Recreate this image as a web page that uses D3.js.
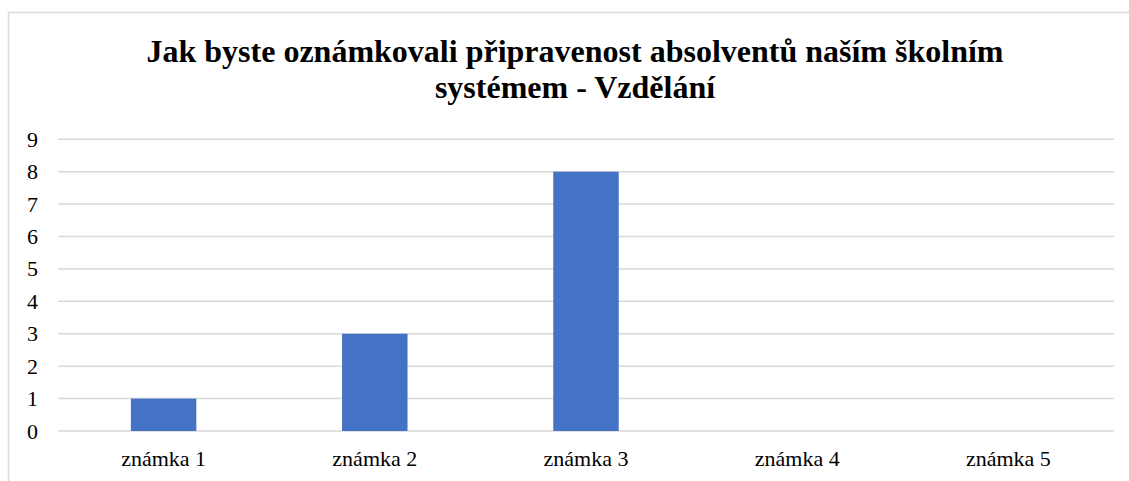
<!DOCTYPE html>
<html><head><meta charset="utf-8">
<script src="https://cdn.jsdelivr.net/npm/d3@7"></script>
<style>html,body{margin:0;padding:0;background:#fff;}svg{display:block;}
svg text{font-family:"Liberation Serif","Times New Roman",serif;}</style>
</head><body>
<svg id="chart" width="1129" height="481"></svg>
<script>
const categories = ["známka 1","známka 2","známka 3","známka 4","známka 5"];
const values = [1,3,8,0,0];
const yTicks = [0,1,2,3,4,5,6,7,8,9];
const titleLines = ["Jak byste oznámkovali připravenost absolventů naším školním","systémem - Vzdělání"];

const svg = d3.select("#chart");
// chart border
svg.append("rect").attr("x",8.5).attr("y",12.5).attr("width",1129).attr("height",480)
  .attr("fill","#fff").attr("stroke","#d9d9d9").attr("stroke-width",1.5);

const margin = {left:58, right:1114, top:139.3, bottom:431};
const x = d3.scaleBand().domain(categories).range([margin.left, margin.right]).paddingInner(0.69).paddingOuter(0.345);
const y = d3.scaleLinear().domain([0,9]).range([margin.bottom, margin.top]);

// gridlines
svg.append("g").selectAll("line").data(yTicks).join("line")
  .attr("x1",margin.left).attr("x2",margin.right)
  .attr("y1",d=>y(d)).attr("y2",d=>y(d))
  .attr("stroke","#d9d9d9").attr("stroke-width",1.5);

// y axis labels
const yAxis = d3.axisLeft(y).tickValues(yTicks).tickSize(0).tickPadding(0);
const gy = svg.append("g").attr("transform","translate(38,0)").call(yAxis);
gy.select(".domain").remove();
gy.attr("font-family",null).attr("font-size",null);
gy.selectAll("text").attr("font-size","22px").attr("fill","#000");

// bars
svg.append("g").selectAll("rect").data(values).join("rect")
  .attr("x",(d,i)=>x(categories[i])).attr("width",x.bandwidth())
  .attr("y",d=>y(d)).attr("height",d=>y(0)-y(d))
  .attr("fill","#4472C4");

// x axis labels
const xAxis = d3.axisBottom(x).tickSize(0).tickPadding(0);
const gx = svg.append("g").attr("transform",`translate(0,450)`).call(xAxis);
gx.select(".domain").remove();
gx.attr("font-family",null).attr("font-size",null);
gx.selectAll("text").attr("font-size","22px").attr("fill","#000");

// title
svg.append("g").selectAll("text").data(titleLines).join("text")
  .attr("x",575).attr("y",(d,i)=>62+i*36)
  .attr("text-anchor","middle").attr("font-weight","bold")
  .attr("font-size","32px").attr("fill","#000").text(d=>d);
</script>
</body></html>
